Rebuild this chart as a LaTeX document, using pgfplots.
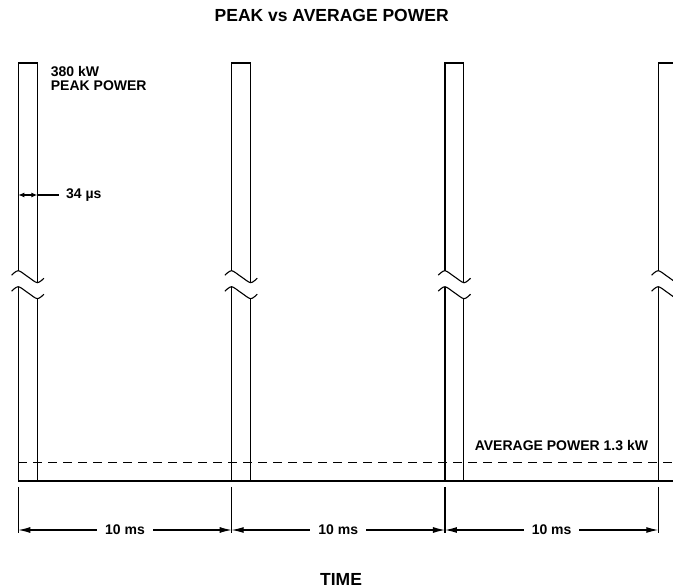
\documentclass[border=0pt]{standalone}
\usepackage{pgfplots}
\pgfplotsset{compat=1.18}
\usepackage{fontspec}
\setmainfont{Liberation Sans}
\usetikzlibrary{arrows.meta}
\newcommand\lbl{\fontsize{14bp}{14bp}\selectfont\bfseries}
\begin{document}
\begin{tikzpicture}
\begin{axis}[
  width=673bp, height=588bp, scale only axis,
  xmin=-0.858, xmax=30.69, ymin=-107, ymax=481,
  hide axis,
  cycle list={{black}},
  every axis plot/.append style={black, line width=1.1bp, no markers},
  unbounded coords=jump,
]
% pulses (width drawn exaggerated, 34 us), period 10 ms
\addplot coordinates {(0,0)(0,194.3) (0,nan) (0,210.3)(0,418)(0.89,418)(0.89,198.3) (0.89,nan) (0.89,0)(0.89,182.3)};
\addplot coordinates {(10,0)(10,194.3) (10,nan) (10,210.3)(10,418)(10.89,418)(10.89,198.3) (10.89,nan) (10.89,0)(10.89,182.3)};
\addplot coordinates {(20,0)(20,194.3) (20,nan) (20,210.3)(20,418)(20.89,418)(20.89,198.3) (20.89,nan) (20.89,0)(20.89,182.3)};
\addplot coordinates {(30,0)(30,194.3) (30,nan) (30,210.3)(30,418)(30.89,418)(30.89,198.3) (30.89,nan) (30.89,0)(30.89,182.3)};
% break marks
\addplot[smooth] coordinates {(-0.314,205.8)(0,210.3)(0.445,204.3)(0.89,198.3)(1.2,202.8)};
\addplot[smooth] coordinates {(-0.314,189.8)(0,194.3)(0.445,188.3)(0.89,182.3)(1.2,186.8)};
\addplot[smooth] coordinates {(9.686,205.8)(10,210.3)(10.445,204.3)(10.89,198.3)(11.2,202.8)};
\addplot[smooth] coordinates {(9.686,189.8)(10,194.3)(10.445,188.3)(10.89,182.3)(11.2,186.8)};
\addplot[smooth] coordinates {(19.686,205.8)(20,210.3)(20.445,204.3)(20.89,198.3)(21.2,202.8)};
\addplot[smooth] coordinates {(19.686,189.8)(20,194.3)(20.445,188.3)(20.89,182.3)(21.2,186.8)};
\addplot[smooth] coordinates {(29.686,205.8)(30,210.3)(30.445,204.3)(30.89,198.3)(31.2,202.8)};
\addplot[smooth] coordinates {(29.686,189.8)(30,194.3)(30.445,188.3)(30.89,182.3)(31.2,186.8)};
% baseline and average power
\addplot coordinates {(0,0)(30.69,0)};
\addplot[dash pattern=on 9bp off 6bp] coordinates {(0,18.3)(30.69,18.3)};
% extension lines
\addplot coordinates {(0,-6)(0,-52) (0,nan) (10,-6)(10,-52) (10,nan) (20,-6)(20,-52) (20,nan) (30,-6)(30,-52)};

\draw[line width=1.1bp, {Latex[length=12bp,width=6bp]}-{Latex[length=12bp,width=6bp]}] (axis cs:0,-49) -- (axis cs:10,-49) node[midway, fill=white, inner xsep=8bp, inner ysep=1bp, font=\lbl] {10 ms};
\draw[line width=1.1bp, {Latex[length=12bp,width=6bp]}-{Latex[length=12bp,width=6bp]}] (axis cs:10,-49) -- (axis cs:20,-49) node[midway, fill=white, inner xsep=8bp, inner ysep=1bp, font=\lbl] {10 ms};
\draw[line width=1.1bp, {Latex[length=12bp,width=6bp]}-{Latex[length=12bp,width=6bp]}] (axis cs:20,-49) -- (axis cs:30,-49) node[midway, fill=white, inner xsep=8bp, inner ysep=1bp, font=\lbl] {10 ms};

\draw[line width=1.1bp, {Latex[length=6bp,width=5bp]}-{Latex[length=6bp,width=5bp]}] (axis cs:0,286) -- (axis cs:0.89,286);
\draw[line width=1.1bp] (axis cs:0.89,286) -- (axis cs:1.922,286);
\node[anchor=base west, inner sep=0, font=\lbl] at (axis cs:2.236,282) {34 µs};

\node[anchor=base west, inner sep=0, font=\lbl] at (axis cs:1.519,404) {380 kW};
\node[anchor=base west, inner sep=0, font=\lbl] at (axis cs:1.519,390) {PEAK POWER};
\node[anchor=base, inner sep=0, font=\lbl] at (axis cs:25.46,30.3) {AVERAGE POWER 1.3 kW};

\node[inner sep=0, font=\fontsize{17.5bp}{17.5bp}\selectfont\bfseries] at (axis cs:14.69,466) {PEAK vs AVERAGE POWER};
\node[inner sep=0, font=\fontsize{17.5bp}{17.5bp}\selectfont\bfseries] at (axis cs:15.13,-98) {TIME};

\path (axis cs:-0.858,-107) rectangle (axis cs:30.69,481);
\end{axis}
\end{tikzpicture}
\end{document}
